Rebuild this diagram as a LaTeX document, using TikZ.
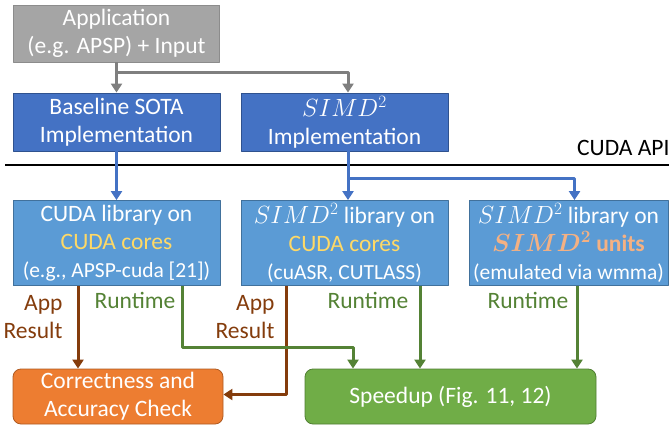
\documentclass[tikz,border=0pt]{standalone}
\usepackage{fontspec}
\setmainfont{Carlito}
\usepackage{bm}
\usetikzlibrary{arrows.meta}
\definecolor{appgray}{HTML}{A5A5A5}
\definecolor{appline}{HTML}{8C8C8C}
\definecolor{impblue}{HTML}{4472C4}
\definecolor{impline}{HTML}{2F528F}
\definecolor{libblue}{HTML}{5B9BD5}
\definecolor{libline}{HTML}{41719C}
\definecolor{chkorange}{HTML}{ED7D31}
\definecolor{chkline}{HTML}{AE5A21}
\definecolor{spdgreen}{HTML}{70AD47}
\definecolor{spdline}{HTML}{507E32}
\definecolor{arrgray}{HTML}{7F7F7F}
\definecolor{resbrown}{HTML}{843C0C}
\definecolor{rtgreen}{HTML}{548235}
\definecolor{coreyellow}{HTML}{FFD966}
\definecolor{unitorange}{HTML}{F4B183}
\newcommand{\smallline}{\fontsize{21.5}{26}\selectfont}
\begin{document}
\begin{tikzpicture}[x=1pt, y=-1pt, line join=round, >={Triangle[width=11pt,length=9pt]}]
			\tikzset{every node/.style={font=\fontsize{23.5}{28}\selectfont},
				box/.style={draw, line width=0.8pt, align=center, inner sep=0pt, text=white},
				appbox/.style={box, fill=appgray, draw=appline, minimum width=206, minimum height=57},
				impbox/.style={box, fill=impblue, draw=impline, minimum width=207, minimum height=58},
				libbox/.style={box, fill=libblue, draw=libline, minimum height=85},
				endbox/.style={box, rounded corners=8pt, minimum height=55},
				arr/.style={->, line width=3pt}}
			\useasboundingbox (0,0) rectangle (669,428);
			% boxes
			\node[appbox] (app) at (116.5,33.5) {Application\\(e.g. APSP) + Input};
			\node[impbox] (base) at (116.5,122) {Baseline SOTA\\Implementation};
			\node[impbox] (simp) at (344.5,122) {$SIMD^2$\\Implementation};
			\node[libbox, minimum width=207] (lib1) at (116.5,243) {CUDA library on\\\textcolor{coreyellow}{CUDA cores}\\{\smallline (e.g., APSP-cuda [21])}};
			\node[libbox, minimum width=207] (lib2) at (344.5,243) {$SIMD^2$ library on\\\textcolor{coreyellow}{CUDA cores}\\{\smallline (cuASR, CUTLASS)}};
			\node[libbox, minimum width=199] (lib3) at (568.5,243) {$SIMD^2$ library on\\\textcolor{unitorange}{$\bm{SIMD^2}$ \textbf{units}}\\{\smallline (emulated via wmma)}};
			\node[endbox, fill=chkorange, draw=chkline, minimum width=210] (chk) at (118,396.5) {Correctness and\\Accuracy Check};
			\node[endbox, fill=spdgreen, draw=spdline, minimum width=291] (spd) at (450.5,396.5) {Speedup (Fig. 11, 12)};
			% api line
			\draw[line width=2.2pt] (5,165) -- (669,165);
			\node[anchor=east] (api) at (673,148) {CUDA API};
			% arrows
			\draw[arr, arrgray] (app.south) -- (base.north);
			\draw[arr, arrgray] ([yshift=-10pt]app.south) -| ([xshift=3.5pt]simp.north);
			\draw[arr, impblue] (base.south) -- (lib1.north);
			\draw[arr, impblue] ([xshift=3.5pt]simp.south) -- ([xshift=3.5pt]lib2.north);
			\draw[arr, impblue] ([xshift=3.5pt, yshift=-27pt]simp.south) -| ([xshift=6pt]lib3.north);
			\draw[arr, resbrown] ([xshift=-38.5pt]lib1.south) -- ([xshift=-38.5pt]lib1.south |- chk.north);
			\draw[arr, resbrown] ([xshift=-58.5pt]lib2.south) |- ([yshift=2pt]chk.east);
			\draw[arr, rtgreen] ([xshift=65.5pt]lib1.south) -- ++(0,62) -| ([xshift=-97.5pt]spd.north);
			\foreach \n/\s in {lib2/75.5, lib3/8.5}
				\draw[arr, rtgreen] ([xshift=\s pt]\n.south) -- ([xshift=\s pt]\n.south |- spd.north);
			% labels
			\foreach \n/\x in {res1/66, res2/278}
				\node[text=resbrown, align=right, anchor=east] (\n) at (\x,317) {App\\Result};
			\foreach \n/\x in {rt1/135, rt2/368, rt3/528}
				\node[text=rtgreen] (\n) at (\x,300) {Runtime};
		\end{tikzpicture}
\end{document}
